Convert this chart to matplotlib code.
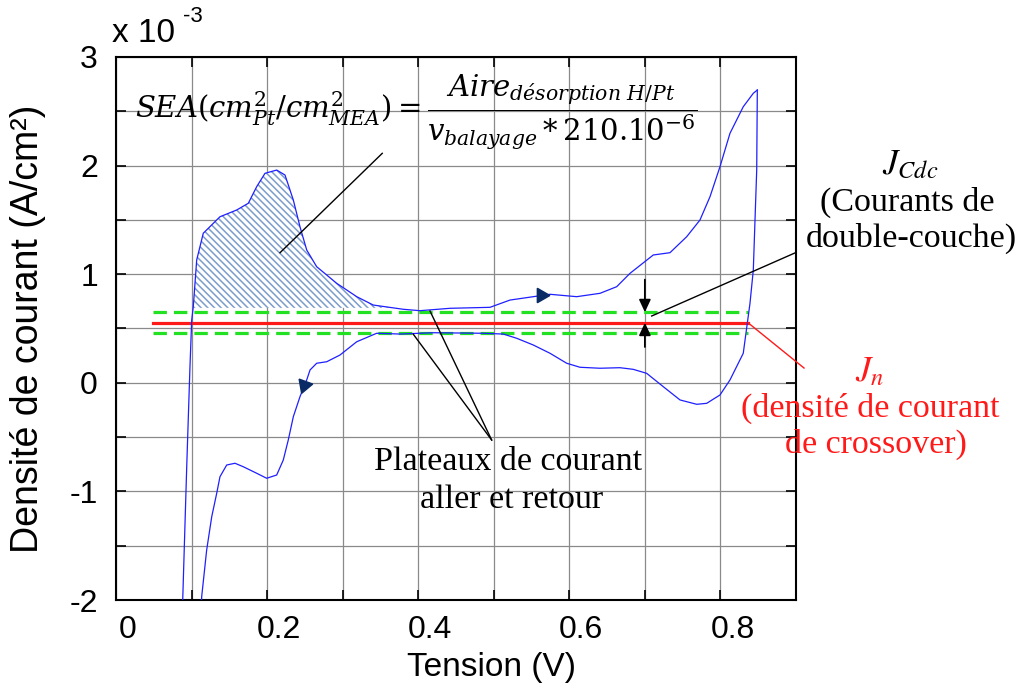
import matplotlib
matplotlib.use("Agg")
import matplotlib.pyplot as plt
import matplotlib.transforms as mtransforms
import numpy as np

# Forward (anodic) sweep, current in 1e-3 A/cm2
v_fwd = [0.0875, 0.0883, 0.0936, 0.0979, 0.1002, 0.1023, 0.1068, 0.1155, 0.1222,
         0.1376, 0.1597, 0.1751, 0.1862, 0.1972, 0.2127, 0.2237, 0.2347, 0.2435,
         0.2524, 0.2656, 0.2921, 0.3186, 0.3405, 0.3802, 0.4023, 0.4420, 0.4950,
         0.5215, 0.5523, 0.5744, 0.6097, 0.6406, 0.6627, 0.6803, 0.7111, 0.7332,
         0.7553, 0.7729, 0.7862, 0.7994, 0.8126, 0.8302, 0.8435, 0.8488]
j_fwd = [-2.30, -2.00, -0.773, 0.148, 0.578, 0.701, 1.131, 1.377, 1.423,
         1.529, 1.591, 1.653, 1.806, 1.929, 1.959, 1.913, 1.683, 1.437,
         1.223, 1.069, 0.916, 0.793, 0.716, 0.677, 0.664, 0.686, 0.695,
         0.762, 0.793, 0.815, 0.793, 0.824, 0.885, 1.008, 1.177, 1.198,
         1.345, 1.499, 1.714, 1.990, 2.297, 2.542, 2.666, 2.696]

# Return (cathodic) sweep
v_ret = [0.8488, 0.8480, 0.8435, 0.8391, 0.8302, 0.8126, 0.7994, 0.7818, 0.7686,
         0.7465, 0.7244, 0.7024, 0.6846, 0.6670, 0.6406, 0.6141, 0.5965, 0.5744,
         0.5523, 0.5303, 0.5126, 0.4861, 0.4199, 0.3759, 0.3450, 0.3186, 0.2965,
         0.2789, 0.2656, 0.2568, 0.2524, 0.2435, 0.2347, 0.2280, 0.2214, 0.2127,
         0.1994, 0.1862, 0.1685, 0.1575, 0.1465, 0.1376, 0.1333, 0.1267, 0.1200,
         0.1134, 0.1120]
j_ret = [2.696, 1.959, 1.039, 0.732, 0.272, 0.026, -0.112, -0.189, -0.198,
         -0.158, -0.036, 0.087, 0.124, 0.139, 0.134, 0.143, 0.180, 0.272,
         0.348, 0.410, 0.449, 0.456, 0.461, 0.449, 0.456, 0.378, 0.256,
         0.194, 0.180, 0.118, 0.026, -0.128, -0.312, -0.527, -0.711, -0.849,
         -0.879, -0.833, -0.773, -0.741, -0.757, -0.865, -1.017, -1.233, -1.540,
         -1.970, -2.30]

j_cross = 0.553      # J_n, red line
j_plateau_hi = 0.65  # upper green dashed
j_plateau_lo = 0.46  # lower green dashed
v_band = [0.049, 0.8365]
j_hatch_base = 0.69

plt.rcParams['font.family'] = ['Liberation Sans', 'DejaVu Sans']
plt.rcParams['mathtext.fontset'] = 'stix'
plt.rcParams['hatch.linewidth'] = 1.1

fig = plt.figure(figsize=(10.2, 6.89), dpi=100)
ax = fig.add_axes([116/1020, 1-600/689, 680/1020, 543/689])

ax.set_xlim(0, 0.9)
ax.set_ylim(-2, 3)
xt = np.arange(0, 0.91, 0.1)
yt = np.arange(-2, 3.01, 0.5)
ax.set_xticks(xt)
ax.set_yticks(yt)
ax.set_xticklabels(['0' if i == 0 else (f'{t:.1f}' if i % 2 == 0 and i < 9 else '')
                    for i, t in enumerate(xt)])
ax.set_yticklabels([f'{int(t)}' if t == int(t) else '' for t in yt])
ax.tick_params(direction='in', length=7, width=1.2, top=True, right=True,
               labelsize=23, pad=11)
ax.tick_params(axis='y', pad=13)
ax.grid(True, color='#8a8a8a', linewidth=0.9)
ax.set_axisbelow(True)
for s in ax.spines.values():
    s.set_linewidth(1.5)

# hatched H desorption area
vf = np.array(v_fwd)
jf = np.array(j_fwd)
ax.fill_between(vf, jf, j_hatch_base, where=(jf > j_hatch_base) & (vf < 0.45),
                interpolate=True, facecolor='white', edgecolor='#7c9cc9',
                hatch='\\\\\\\\\\', linewidth=0, zorder=2)

# reference levels
ax.plot(v_band, [j_plateau_hi]*2, color='#22e022', lw=2.3, dashes=(4.2, 2.2), zorder=3)
ax.plot(v_band, [j_plateau_lo]*2, color='#22e022', lw=2.3, dashes=(4.2, 2.2), zorder=3)
ax.plot(v_band, [j_cross]*2, color='#ff1a1a', lw=2.3, zorder=3)

# CV curve
ax.plot(v_fwd, j_fwd, color='#1f1fff', lw=0.9, zorder=4)
ax.plot(v_ret, j_ret, color='#1f1fff', lw=0.9, zorder=4)
ax.plot([0.5625], [0.81], marker=(3, 0, -90), ms=12, color='#0a2a66', zorder=5)
ax.plot([0.2485], [-0.02], marker=(3, 0, 160), ms=12, color='#0a2a66', zorder=5)

# annotation lines
ax.plot([0.3524, 0.2171], [2.113, 1.198], color='k', lw=1, zorder=5)
ax.plot([0.4972, 0.4156], [-0.527, 0.661], color='k', lw=1, zorder=5)
ax.plot([0.4972, 0.3935], [-0.527, 0.447], color='k', lw=1, zorder=5)
ax.plot([0.709, 0.9], [0.615, 1.20], color='k', lw=1, zorder=5)
ax.plot([v_band[1], 0.9106], [j_cross, 0.136], color='#ff1a1a', lw=1, zorder=5,
        clip_on=False)
ap = dict(arrowstyle='-|>,head_length=0.75,head_width=0.35', color='k', lw=1.3,
          shrinkA=0, shrinkB=0)
ax.annotate('', xy=(0.7, j_plateau_hi), xytext=(0.7, 0.95), arrowprops=ap, zorder=6)
ax.annotate('', xy=(0.7, j_cross), xytext=(0.7, 0.33), arrowprops=ap, zorder=6)

# labels
ax.set_xlabel('Tension (V)', fontsize=24)
ax.xaxis.set_label_coords((492-116)/680, -0.095)
ax.set_ylabel('Densité de courant (A/cm²)', fontsize=27)
ax.yaxis.set_label_coords(-(116-46)/680, 0.5)
fig.text(112/1020, 1-33/689, 'x 10', fontsize=24, ha='left', va='center')
fig.text(183/1020, 1-17/689, '-3', fontsize=16, ha='left', va='center')

def px(x, y):
    return (x/1020, 1-y/689)

fig.text(*px(135, 112),
         r'$SEA(cm^2_{Pt}/cm^2_{MEA}) = \dfrac{Aire_{désorption\ H/Pt}}{v_{balayage} * 210.10^{-6}}$',
         fontsize=21, math_fontfamily='dejavuserif', ha='left', va='center')

serif = ['Liberation Serif', 'DejaVu Serif']
fig.text(*px(910, 165), r'$J_{Cdc}$', fontsize=25, ha='center', va='center')
fig.text(*px(907, 202), '(Courants de', fontsize=24.5, family=serif, ha='center', va='center')
fig.text(*px(911, 238), 'double-couche)', fontsize=24.5, family=serif, ha='center', va='center')
fig.text(*px(870, 372), r'$J_n$', fontsize=25, color='#ff1a1a', ha='center', va='center')
fig.text(*px(870, 408), '(densité de courant', fontsize=24.5, family=serif, color='#ff1a1a',
         ha='center', va='center')
fig.text(*px(876, 444), 'de crossover)', fontsize=24.5, family=serif, color='#ff1a1a',
         ha='center', va='center')
fig.text(*px(508, 462), 'Plateaux de courant', fontsize=24.5, family=serif, ha='center', va='center')
fig.text(*px(512, 500), 'aller et retour', fontsize=24.5, family=serif, ha='center', va='center')

# shift x tick labels slightly right as in the original
off = mtransforms.ScaledTranslation(12/100, 0, fig.dpi_scale_trans)
for lab in ax.get_xticklabels():
    lab.set_transform(lab.get_transform() + off)

fig.savefig('out.png', dpi=100)
